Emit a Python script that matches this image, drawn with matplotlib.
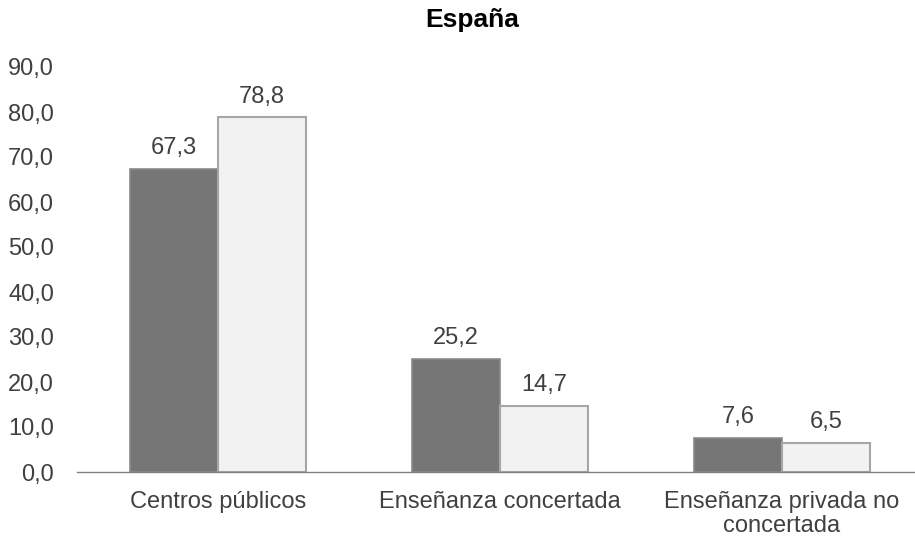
import matplotlib
matplotlib.use("Agg")
import matplotlib.pyplot as plt
import numpy as np

categories = ["Centros públicos", "Enseñanza concertada", "Enseñanza privada no\nconcertada"]
series_a = [67.3, 25.2, 7.6]
series_b = [78.8, 14.7, 6.5]
yticks = [0, 10, 20, 30, 40, 50, 60, 70, 80, 90]

plt.rcParams['font.family'] = ['Liberation Sans', 'DejaVu Sans']

fig = plt.figure(figsize=(9.15, 5.41), dpi=100)
ax = fig.add_axes([77/915, 1-472/541, (915-77)/915, (472-67)/541])

x = np.arange(len(categories))
w = 0.312
ba = ax.bar(x - w/2, series_a, w, color="#767676", edgecolor="#8a8a8a", linewidth=1.2)
bb = ax.bar(x + w/2, series_b, w, color="#f2f2f2", edgecolor="#a6a6a6", linewidth=1.5)

for rects, vals in ((ba, series_a), (bb, series_b)):
    for r, v in zip(rects, vals):
        ax.text(r.get_x() + r.get_width()/2, v + 3.3, f"{v:.1f}".replace(".", ","),
                ha="center", va="baseline", fontsize=17, color="#404040")

ax.set_ylim(0, 90)
ax.set_xlim(-0.5, 2.472)
ax.set_yticks(yticks)
ax.set_yticklabels([f"{t:.1f}".replace(".", ",") for t in yticks], fontsize=17, color="#404040")
ax.set_xticks(x)
ax.set_xticklabels(categories, fontsize=17, color="#404040", linespacing=1.1)
ax.tick_params(axis="both", length=0)
ax.tick_params(axis="y", pad=16.5)
ax.tick_params(axis="x", pad=14)
for s in ("top", "right", "left"):
    ax.spines[s].set_visible(False)
ax.spines["bottom"].set_color("#808080")
ax.spines["bottom"].set_linewidth(1.0)

fig.text(472/915, 1-20/541, "España", ha="center", va="center", fontsize=19, fontweight="bold", color="#000000")

fig.savefig("out.png", dpi=100)
